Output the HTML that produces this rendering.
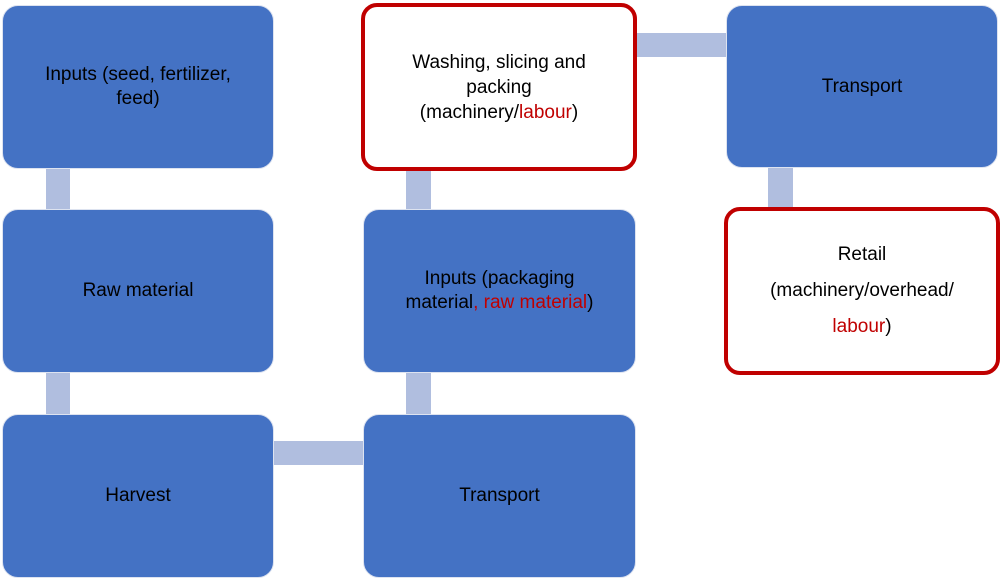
<!DOCTYPE html>
<html><head><meta charset="utf-8"><style>
html,body{margin:0;padding:0;background:#fff;width:1000px;height:582px;overflow:hidden;position:relative}
.b{position:absolute;box-sizing:border-box;border-radius:16px;display:flex;align-items:center;justify-content:center;text-align:center;font-family:"Liberation Sans",sans-serif;font-size:19px;line-height:24px;color:#000}
.blue{background:#4472C4;border:1px solid #dde3f0}
.red{background:#fff;border:4px solid #C00000}
.c{position:absolute;background:#B0BEDF}
.r{color:#C00000}
</style></head><body>
<div class="c" style="left:46px;top:166px;width:24px;height:46px"></div>
<div class="c" style="left:46px;top:370px;width:24px;height:46px"></div>
<div class="c" style="left:271px;top:441px;width:94px;height:24px"></div>
<div class="c" style="left:406px;top:370px;width:25px;height:46px"></div>
<div class="c" style="left:406px;top:166px;width:25px;height:46px"></div>
<div class="c" style="left:634px;top:33px;width:94px;height:24px"></div>
<div class="c" style="left:768px;top:165px;width:25px;height:46px"></div>

<div class="b blue" style="left:2px;top:5px;width:272px;height:164px"><div>Inputs (seed, fertilizer,<br>feed)</div></div>
<div class="b blue" style="left:2px;top:209px;width:272px;height:164px"><div>Raw material</div></div>
<div class="b blue" style="left:2px;top:414px;width:272px;height:164px"><div>Harvest</div></div>
<div class="b blue" style="left:363px;top:414px;width:273px;height:164px"><div>Transport</div></div>
<div class="b blue" style="left:363px;top:209px;width:273px;height:164px"><div>Inputs (packaging<br>material<span class="r">, raw material</span>)</div></div>
<div class="b red" style="left:361px;top:3px;width:276px;height:168px;line-height:25px"><div>Washing, slicing and<br>packing<br>(machinery/<span class="r">labour</span>)</div></div>
<div class="b blue" style="left:726px;top:5px;width:272px;height:163px"><div>Transport</div></div>
<div class="b red" style="left:724px;top:207px;width:276px;height:168px"><div>Retail<br><span style="display:inline-block;margin-top:12px">(machinery/overhead/</span><br><span style="display:inline-block;margin-top:12px"><span class="r">labour</span>)</span></div></div>
</body></html>
